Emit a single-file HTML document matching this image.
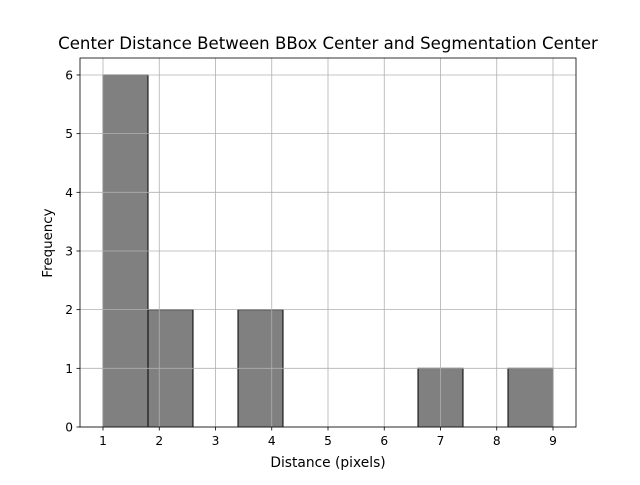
<!DOCTYPE html>
<html><head><meta charset="utf-8"><style>
body{margin:0;background:#fff;}
svg text{font-family:"DejaVu Sans","Liberation Sans",sans-serif;fill:#000;}
</style></head><body>
<svg id="chart" width="640" height="480" xmlns="http://www.w3.org/2000/svg">
<rect x="0" y="0" width="640" height="480" fill="#fff"/>
<text x="328" y="49" font-size="16.6" text-anchor="middle">Center Distance Between BBox Center and Segmentation Center</text>
<g id="bars"></g>
<g id="grid"></g>
<g id="axes"></g>
<text x="328" y="467" font-size="13.8" text-anchor="middle">Distance (pixels)</text>
<text x="0" y="0" font-size="13.4" text-anchor="middle" transform="translate(52,243) rotate(-90)">Frequency</text>
</svg>
<script>
const binEdges = [1,1.8,2.6,3.4,4.2,5.0,5.8,6.6,7.4,8.2,9.0];
const counts = [6,2,0,2,0,0,0,1,0,1];
const xTicks = [1,2,3,4,5,6,7,8,9];
const yTicks = [0,1,2,3,4,5,6];

const L=80,R=576,T=58,B=427;
function xs(v){return 103+(v-1)*56.25;}
function ys(v){return 427-v*58.67;}
const NS="http://www.w3.org/2000/svg";
function mk(tag,attrs,parent){const e=document.createElementNS(NS,tag);for(const k in attrs)e.setAttribute(k,attrs[k]);parent.appendChild(e);return e;}
const bars=document.getElementById('bars'),grid=document.getElementById('grid'),axes=document.getElementById('axes');
counts.forEach((c,i)=>{
  if(c<=0)return;
  const x0=xs(binEdges[i]),x1=xs(binEdges[i+1]);
  const r=mk('rect',{x:x0,y:ys(c),width:x1-x0,height:ys(0)-ys(c),fill:'#808080',stroke:'#000','stroke-width':1},bars);
  
  
});
xTicks.forEach(t=>{
  const x=xs(t);
  const g=mk('line',{x1:x,x2:x,y1:T,y2:B,stroke:'#b0b0b0','stroke-width':0.8},grid);
  
  
  const tk=mk('line',{x1:x,x2:x,y1:B,y2:B+3.5,stroke:'#000','stroke-width':0.8},axes);
  
  
  const tx=mk('text',{x:x,y:B+18,'font-size':12.2,'text-anchor':'middle'},axes);
  tx.textContent=t;
  
  
});
yTicks.forEach(t=>{
  const y=ys(t);
  const g=mk('line',{x1:L,x2:R,y1:y,y2:y,stroke:'#b0b0b0','stroke-width':0.8},grid);
  
  
  const tk=mk('line',{x1:L-3.5,x2:L,y1:y,y2:y,stroke:'#000','stroke-width':0.8},axes);
  
  
  const tx=mk('text',{x:L-7,y:y+4.5,'font-size':12.2,'text-anchor':'end'},axes);
  tx.textContent=t;
  
  
});
const frame=mk('rect',{x:L,y:T,width:R-L,height:B-T,fill:'none',stroke:'#000','stroke-width':0.8},axes);


</script>
</body></html>
